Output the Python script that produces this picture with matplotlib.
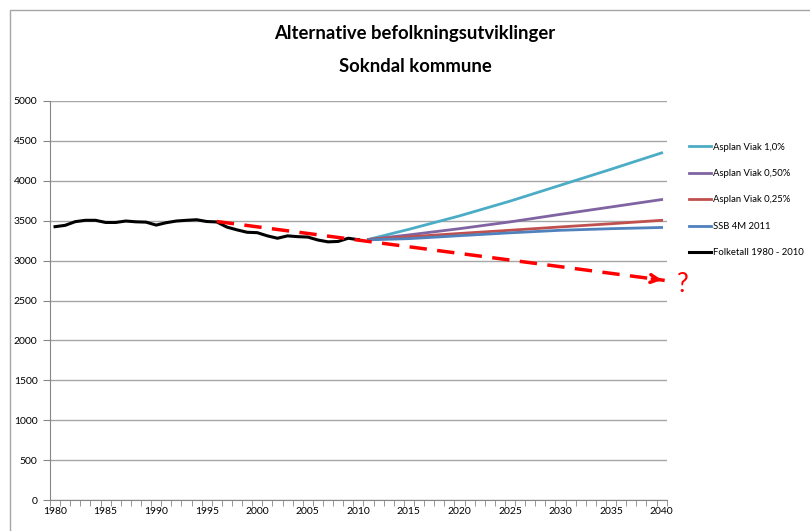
import matplotlib.pyplot as plt
from matplotlib.patches import Rectangle
import numpy as np

plt.rcParams['font.family'] = ['Lato', 'DejaVu Sans']

# historical population
hist_years = list(range(1980, 2011))
hist_values = [3425, 3442, 3488, 3505, 3505, 3478, 3478, 3496, 3486, 3482,
               3445, 3475, 3496, 3505, 3512, 3490, 3484, 3420, 3385, 3355,
               3350, 3310, 3280, 3310, 3300, 3295, 3258, 3235, 3240, 3280,
               3262]

# projections (read every 5 years)
proj_years = [2011, 2015, 2020, 2025, 2030, 2035, 2040]
asplan_10 = [3265, 3392, 3560, 3745, 3945, 4145, 4350]
asplan_050 = [3265, 3322, 3400, 3485, 3580, 3672, 3765]
asplan_025 = [3265, 3298, 3340, 3380, 3422, 3462, 3505]
ssb_4m = [3260, 3275, 3312, 3348, 3380, 3400, 3415]

# red trend
trend_years = [1996, 2040.3]
trend_values = [3490, 2752]

labels = ['Asplan Viak 1,0%', 'Asplan Viak 0,50%', 'Asplan Viak 0,25%',
          'SSB 4M 2011', 'Folketall 1980 - 2010']
colors = ['#4BACC6', '#8064A2', '#C0504D', '#4F81BD', '#000000']

fig = plt.figure(figsize=(8.1, 5.31), dpi=100)
ax = fig.add_axes([50 / 810, 1 - 500 / 531, 616.7 / 810, 399 / 531])

# outer chart frame
fig.patches.append(Rectangle((10 / 810, -0.1), 1.1, 1 - 10 / 531 + 0.1,
                             transform=fig.transFigure, fill=False,
                             edgecolor='#a6a6a6', lw=1))

ax.set_ylim(0, 5000)
ax.set_xlim(1979.5, 2040.5)
ax.set_yticks(np.arange(0, 5001, 500))
ax.grid(axis='y', color='#a6a6a6', lw=1)
ax.set_axisbelow(True)
for s in ['top', 'right']:
    ax.spines[s].set_visible(False)
for s in ['left', 'bottom']:
    ax.spines[s].set_color('#868686')

ax.set_xticks(np.arange(1980, 2041, 5))
ax.set_xticks(np.arange(1979.5, 2041, 1), minor=True)
ax.tick_params(axis='x', which='major', length=0, labelsize=7.5, pad=5)
ax.tick_params(axis='x', which='minor', length=4, color='#868686')
ax.tick_params(axis='y', length=5, color='#868686', labelsize=7.5, pad=4)

series = [asplan_10, asplan_050, asplan_025, ssb_4m]
handles = []
for vals, lab, c in zip(series, labels[:4], colors[:4]):
    h, = ax.plot(proj_years, vals, color=c, lw=2.0, label=lab)
    handles.append(h)
h, = ax.plot(hist_years, hist_values, color='black', lw=2.2, label=labels[4])
handles.append(h)

ax.plot(trend_years, trend_values, color='red', lw=2.5, dashes=(5, 3))
ax.annotate('', xy=(trend_years[1], trend_values[1]),
            xytext=(trend_years[1] - 1.5, trend_values[1] + 25),
            arrowprops=dict(arrowstyle='->', color='red', lw=2.5,
                            mutation_scale=14))
fig.text(683 / 810, 1 - 285 / 531, '?', color='red', fontsize=19,
         ha='center', va='center')

fig.legend(handles=handles, labels=labels, loc='upper left',
           bbox_to_anchor=(680 / 810, 1 - 134 / 531), frameon=False,
           fontsize=6.8, handlelength=2.4, handletextpad=0.2,
           labelspacing=1.85)

fig.text(415 / 810, 1 - 33 / 531, 'Alternative befolkningsutviklinger',
         fontsize=13.3, fontweight='bold', ha='center', va='center')
fig.text(415 / 810, 1 - 66 / 531, 'Sokndal kommune',
         fontsize=13.3, fontweight='bold', ha='center', va='center')

fig.savefig('out.png', dpi=100)
